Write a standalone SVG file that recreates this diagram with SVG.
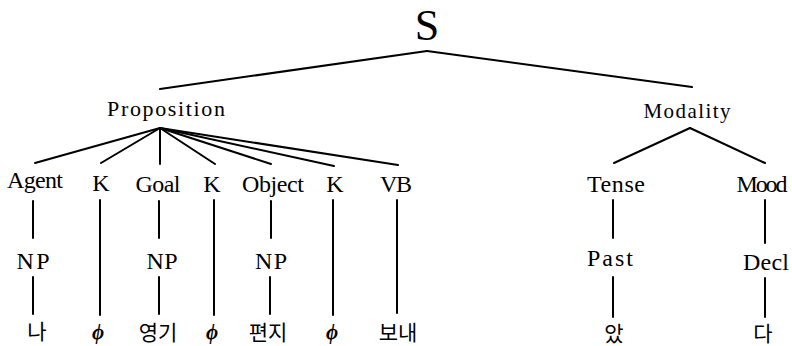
<svg xmlns="http://www.w3.org/2000/svg" width="792" height="346" viewBox="0 0 792 346">
<style>
.t{font-family:"Liberation Serif","DejaVu Serif",serif;font-size:24px;fill:#000;text-anchor:middle}
.k{font-family:"Noto Sans CJK KR","Noto Sans",sans-serif;font-size:21px;fill:#000;text-anchor:middle}
.p{font-family:"Liberation Serif","DejaVu Serif",serif;font-size:21px;font-style:italic;font-weight:bold;fill:#000;text-anchor:middle}
.e{stroke:#000;stroke-width:2;fill:none;stroke-linecap:round}
</style>
<rect width="792" height="346" fill="#fff"/>
<g id="connectors" class="e">
<line x1="427" y1="51" x2="160" y2="89"/>
<line x1="427" y1="51" x2="692" y2="87"/>
<line x1="160" y1="128" x2="35" y2="163"/>
<line x1="160" y1="128" x2="101" y2="163"/>
<line x1="160" y1="128" x2="160" y2="164"/>
<line x1="160" y1="128" x2="215" y2="164"/>
<line x1="160" y1="128" x2="271" y2="164"/>
<line x1="160" y1="128" x2="334" y2="166"/>
<line x1="160" y1="128" x2="398" y2="165"/>
<line x1="690" y1="128" x2="614" y2="163"/>
<line x1="690" y1="128" x2="765" y2="163"/>
<line x1="33" y1="201" x2="33" y2="238"/>
<line x1="33" y1="277" x2="33" y2="314"/>
<line x1="100" y1="200" x2="100" y2="315"/>
<line x1="159" y1="201" x2="159" y2="238"/>
<line x1="159" y1="277" x2="159" y2="314"/>
<line x1="214" y1="200" x2="214" y2="315"/>
<line x1="271" y1="201" x2="271" y2="238"/>
<line x1="270" y1="277" x2="270" y2="314"/>
<line x1="333" y1="200" x2="333" y2="315"/>
<line x1="397" y1="200" x2="397" y2="313"/>
<line x1="613" y1="200" x2="613" y2="238"/>
<line x1="613" y1="277" x2="613" y2="317"/>
<line x1="765" y1="200" x2="765" y2="243"/>
<line x1="765" y1="278" x2="765" y2="317"/>
</g>
<g id="S"><text class="t" x="427" y="40" style="font-size:44px">S</text></g>
<g id="Proposition"><text class="t" x="166" y="116" style="font-size:22px" textLength="118" lengthAdjust="spacing">Proposition</text></g>
<g id="Modality"><text class="t" x="687" y="118" style="font-size:21px" textLength="87" lengthAdjust="spacing">Modality</text></g>
<g id="Agent"><text class="t" x="35" y="188" textLength="56" lengthAdjust="spacing">Agent</text></g>
<g id="K1"><text class="t" x="101" y="191">K</text></g>
<g id="Goal"><text class="t" x="158" y="192" textLength="45" lengthAdjust="spacing">Goal</text></g>
<g id="K2"><text class="t" x="212" y="192">K</text></g>
<g id="Object"><text class="t" x="273" y="192" textLength="62" lengthAdjust="spacing">Object</text></g>
<g id="K3"><text class="t" x="335" y="192">K</text></g>
<g id="VB"><text class="t" x="396" y="192" textLength="32" lengthAdjust="spacing">VB</text></g>
<g id="Tense"><text class="t" x="616" y="192" textLength="58" lengthAdjust="spacing">Tense</text></g>
<g id="Mood"><text class="t" x="762" y="192" textLength="51" lengthAdjust="spacing">Mood</text></g>
<g id="NP1"><text class="t" x="33" y="269" textLength="33" lengthAdjust="spacing">NP</text></g>
<g id="NP2"><text class="t" x="162" y="269" textLength="31" lengthAdjust="spacing">NP</text></g>
<g id="NP3"><text class="t" x="271" y="269" textLength="32" lengthAdjust="spacing">NP</text></g>
<g id="Past"><text class="t" x="610" y="266" textLength="46" lengthAdjust="spacing">Past</text></g>
<g id="Decl"><text class="t" x="766" y="270" textLength="46" lengthAdjust="spacing">Decl</text></g>
<g id="na"><text class="k" x="37" y="339">나</text></g>
<g id="phi1"><text class="p" x="98" y="339">ϕ</text></g>
<g id="yeonggi"><text class="k" x="158" y="340">영기</text></g>
<g id="phi2"><text class="p" x="212" y="339">ϕ</text></g>
<g id="pyeonji"><text class="k" x="268" y="340">편지</text></g>
<g id="phi3"><text class="p" x="332" y="339">ϕ</text></g>
<g id="bonae"><text class="k" x="398" y="340">보내</text></g>
<g id="at"><text class="k" x="614" y="341">았</text></g>
<g id="da"><text class="k" x="763" y="341">다</text></g>
</svg>
